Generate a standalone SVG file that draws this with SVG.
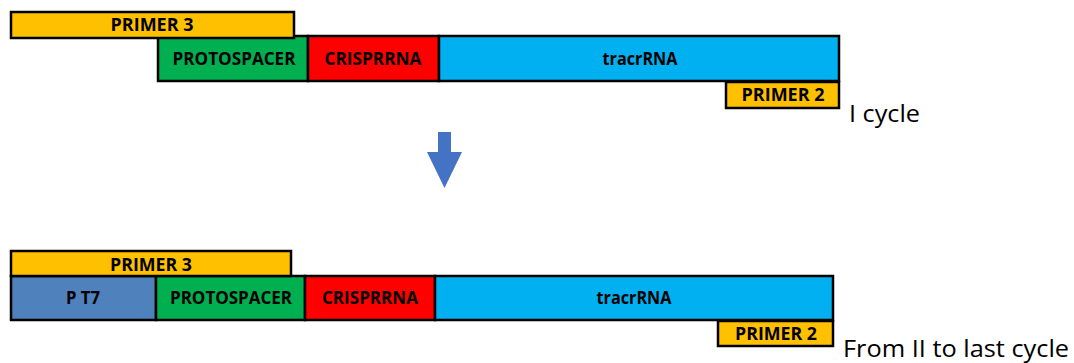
<svg xmlns="http://www.w3.org/2000/svg" width="1074" height="363" viewBox="0 0 1074 363">
  <defs>
    <style>
      .blk { stroke: #000; stroke-width: 2.5; }
      .primer { fill: #FFC000; }
      .proto { fill: #00B050; }
      .crispr { fill: #FF0000; }
      .tracr { fill: #00B0F0; }
      .pt7 { fill: #4F81BD; }
      .lbl { font-family: "Open Sans", "Liberation Sans", sans-serif; font-weight: bold; font-size: 17px; fill: #000; text-anchor: middle; }
      .cap { font-family: "Open Sans", "Liberation Sans", sans-serif; font-size: 24px; fill: #000; }
    </style>
  </defs>
  <rect width="1074" height="363" fill="#fff"/>

  <!-- first cycle construct -->
  <g id="top-protospacer">
    <rect class="blk proto" x="158" y="36" width="150" height="45"/>
    <text class="lbl" x="234" y="65" textLength="123" lengthAdjust="spacingAndGlyphs">PROTOSPACER</text>
  </g>
  <g id="top-crisprrna">
    <rect class="blk crispr" x="308" y="36" width="131" height="45"/>
    <text class="lbl" x="373" y="65" textLength="97" lengthAdjust="spacingAndGlyphs">CRISPRRNA</text>
  </g>
  <g id="top-tracrrna">
    <rect class="blk tracr" x="439" y="36" width="400" height="45"/>
    <text class="lbl" x="640" y="65" textLength="75" lengthAdjust="spacingAndGlyphs">tracrRNA</text>
  </g>
  <g id="top-primer3">
    <rect class="blk primer" x="11" y="12" width="283" height="26"/>
    <text class="lbl" x="152" y="31" textLength="83" lengthAdjust="spacingAndGlyphs">PRIMER 3</text>
  </g>
  <g id="top-primer2">
    <rect class="blk primer" x="726" y="82" width="113" height="26"/>
    <text class="lbl" x="783" y="101" textLength="83" lengthAdjust="spacingAndGlyphs">PRIMER 2</text>
  </g>
  <g id="label-cycle1">
    <text class="cap" x="849" y="122" textLength="71" lengthAdjust="spacingAndGlyphs">I cycle</text>
  </g>

  <!-- step arrow -->
  <g id="connectors">
    <polygon points="438,132 451,132 451,152 462,152 444.5,188 427,152 438,152" fill="#4472C4"/>
  </g>

  <!-- later cycles construct -->
  <g id="bot-pt7">
    <rect class="blk pt7" x="11" y="276" width="145" height="44"/>
    <text class="lbl" x="83" y="304" textLength="34" lengthAdjust="spacingAndGlyphs">P T7</text>
  </g>
  <g id="bot-protospacer">
    <rect class="blk proto" x="156" y="276" width="149" height="44"/>
    <text class="lbl" x="231" y="304" textLength="122" lengthAdjust="spacingAndGlyphs">PROTOSPACER</text>
  </g>
  <g id="bot-crisprrna">
    <rect class="blk crispr" x="305" y="276" width="130" height="44"/>
    <text class="lbl" x="370" y="304" textLength="96" lengthAdjust="spacingAndGlyphs">CRISPRRNA</text>
  </g>
  <g id="bot-tracrrna">
    <rect class="blk tracr" x="435" y="276" width="398" height="44"/>
    <text class="lbl" x="634" y="304" textLength="75" lengthAdjust="spacingAndGlyphs">tracrRNA</text>
  </g>
  <g id="bot-primer3">
    <rect class="blk primer" x="11" y="251" width="280" height="25"/>
    <text class="lbl" x="151" y="271" textLength="82" lengthAdjust="spacingAndGlyphs">PRIMER 3</text>
  </g>
  <g id="bot-primer2">
    <rect class="blk primer" x="718" y="321" width="115" height="25"/>
    <text class="lbl" x="776" y="340" textLength="82" lengthAdjust="spacingAndGlyphs">PRIMER 2</text>
  </g>
  <g id="label-cycles">
    <text class="cap" x="843" y="357" textLength="226" lengthAdjust="spacingAndGlyphs">From II to last cycle</text>
  </g>
</svg>
